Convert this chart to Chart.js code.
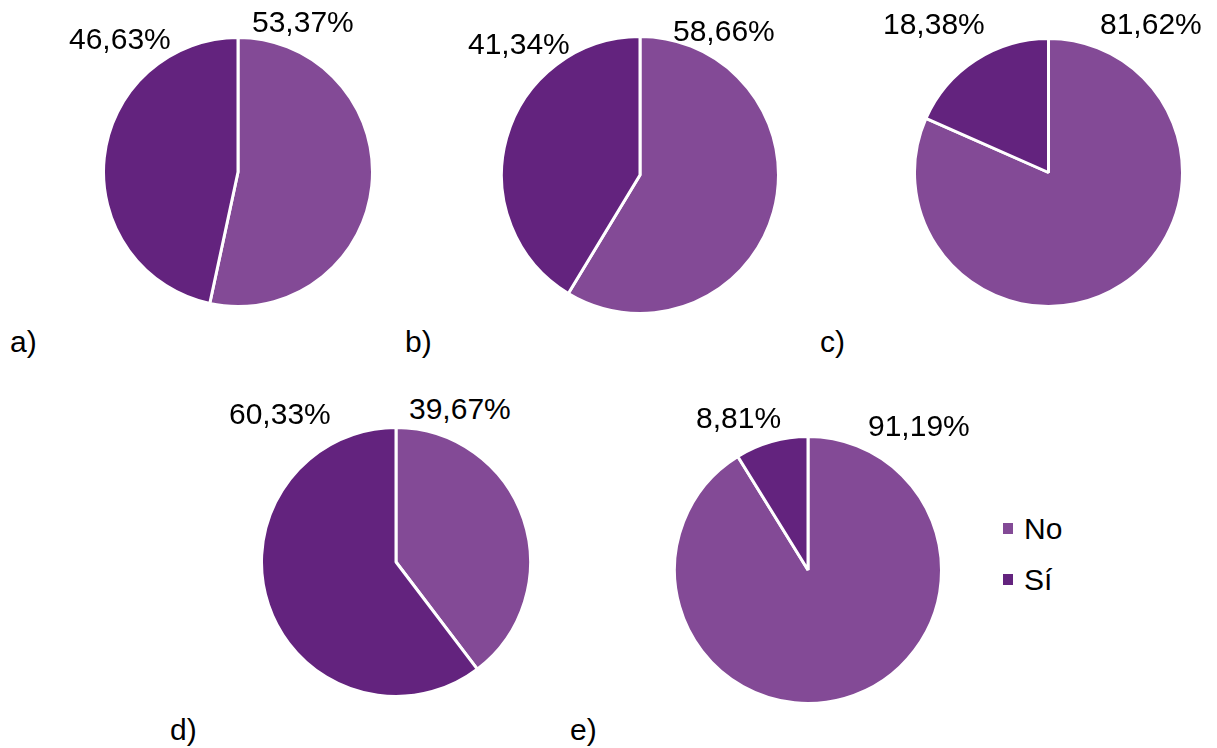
<!DOCTYPE html>
<html>
<head>
<meta charset="utf-8">
<script src="https://cdn.jsdelivr.net/npm/chart.js@4.4.1/dist/chart.umd.min.js"></script>
<style>
  html, body { margin: 0; padding: 0; background: #ffffff; }
  body { width: 1217px; height: 748px; position: relative; overflow: hidden;
         font-family: "Liberation Sans", Arial, sans-serif; }
  canvas.pie { position: absolute; }
  .txt { position: absolute; font-size: 30px; line-height: 30px; color: #000; white-space: nowrap; }
  .sw { position: absolute; width: 10px; height: 11px; }
</style>
</head>
<body>
<script>
// Answer categories and the share (%) for each panel
const categories = ["No", "Sí"];
const panels = ["a)", "b)", "c)", "d)", "e)"];
const shareNo = [53.37, 58.66, 81.62, 39.67, 91.19];
const shareSi = [46.63, 41.34, 18.38, 60.33, 8.81];

const colors = ["#834a96", "#63237e"];

// Layout of each panel: pie centre, radius, label anchors (left, cap top) and panel letter
const layout = [
  { cx: 238,  cy: 172, r: 134,   noLbl: [252, 11],  siLbl: [69, 28],   letter: [10, 331] },
  { cx: 640,  cy: 175, r: 138,   noLbl: [673, 20],  siLbl: [468, 33],  letter: [405, 331] },
  { cx: 1048, cy: 172, r: 133.5, noLbl: [1100, 13], siLbl: [883, 13],  letter: [820, 331] },
  { cx: 396,  cy: 562, r: 134,   noLbl: [409, 398], siLbl: [229, 403], letter: [170, 719] },
  { cx: 808,  cy: 570, r: 133,   noLbl: [868, 415], siLbl: [696, 407], letter: [570, 719] }
];

function fmt(v) { return v.toFixed(2).replace(".", ",") + "%"; }

function addText(str, x, capTop) {
  const d = document.createElement("div");
  d.className = "txt";
  d.textContent = str;
  d.style.left = x + "px";
  d.style.top = (capTop - 4) + "px";
  document.body.appendChild(d);
}

panels.forEach((name, i) => {
  const L = layout[i];
  const pad = 2;
  const size = Math.round(2 * (L.r + pad));
  const cv = document.createElement("canvas");
  cv.className = "pie";
  cv.width = size; cv.height = size;
  cv.style.width = size + "px"; cv.style.height = size + "px";
  cv.style.left = (L.cx - size / 2) + "px";
  cv.style.top = (L.cy - size / 2) + "px";
  document.body.appendChild(cv);

  new Chart(cv, {
    type: "pie",
    data: {
      labels: categories,
      datasets: [{
        data: [shareNo[i], shareSi[i]],
        backgroundColor: colors,
        borderColor: "#ffffff",
        borderWidth: 3
      }]
    },
    options: {
      responsive: false,
      animation: false,
      layout: { padding: 0 },
      plugins: { legend: { display: false }, tooltip: { enabled: false } }
    }
  });

  addText(fmt(shareNo[i]), L.noLbl[0], L.noLbl[1]);
  addText(fmt(shareSi[i]), L.siLbl[0], L.siLbl[1]);
  addText(name, L.letter[0], L.letter[1]);
});

// Legend
const legendPos = [[1003, 523], [1003, 574]];
categories.forEach((c, k) => {
  const s = document.createElement("div");
  s.className = "sw";
  s.style.background = colors[k];
  s.style.left = legendPos[k][0] + "px";
  s.style.top = legendPos[k][1] + "px";
  document.body.appendChild(s);
  addText(c, 1024, legendPos[k][1] - 5);
});
</script>
</body>
</html>
